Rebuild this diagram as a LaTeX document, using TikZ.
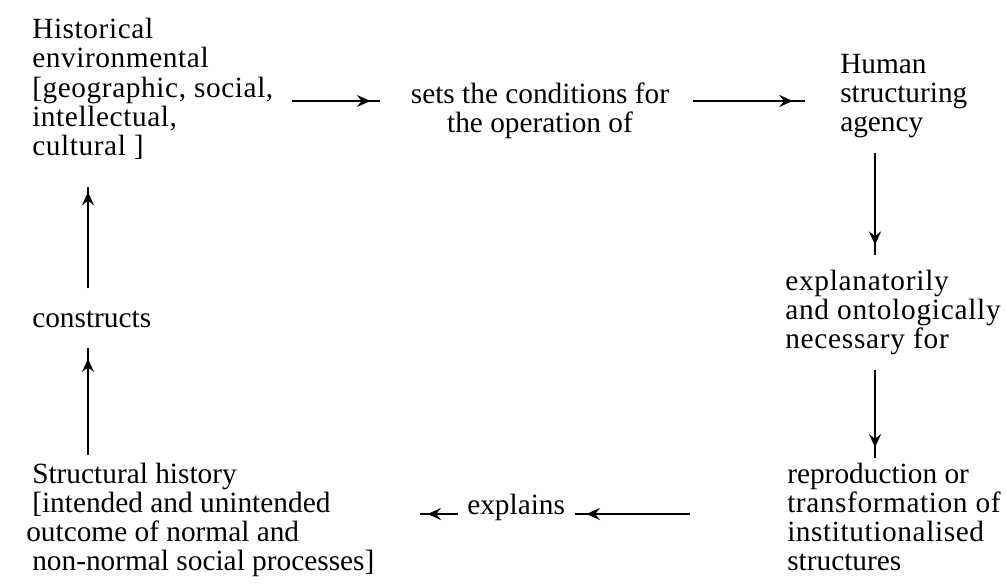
\documentclass[tikz,border=0pt]{standalone}
\usepackage{fontspec}
\setmainfont{Liberation Serif}
\newfontfamily\spc[LetterSpace=2]{Liberation Serif}
\newfontfamily\spcb[LetterSpace=2.5]{Liberation Serif}
\usetikzlibrary{arrows.meta,decorations.markings,calc}
\begin{document}
\begin{tikzpicture}[x=0.75pt,y=-0.75pt,
  txt/.style={inner sep=0pt, align=left, anchor=north west,
    font=\fontsize{22}{21.6}\selectfont, execute at begin node=\strut},
  spaced/.style={font=\spc\fontsize{22}{21.9}\selectfont},
  spacedb/.style={font=\spcb\fontsize{22}{21.6}\selectfont},
  ctr/.style={align=center, anchor=north},
  arr/.style={line width=1.5pt, decoration={markings,
    mark=at position #1 with {\arrow{Stealth[length=10pt,width=9pt,inset=3.5pt]}}},
    postaction={decorate}},
  arr/.default=0.9]
\useasboundingbox (0,0) rectangle (1006,585);
% text blocks
\node[txt, spaced] (hist) at (32,18) {Historical\\environmental\\{[}geographic, social,\\intellectual,\\cultural ]};
\node[txt, ctr] (sets) at (540,83) {sets the conditions for\\the operation of};
\node[txt] (human) at (840,54) {Human\\structuring\\agency};
\node[txt, spacedb] (expl) at (785,270) {explanatorily\\and ontologically\\necessary for};
\node[txt] (repro) at (787,463) {reproduction or\\{\spc transformation of}\\{\spc institutionalised}\\structures};
\node[txt] (expls) at (467,494) {explains};
\node[txt] (struct) at (32,463) {Structural history\\{[}intended and unintended\\\hspace*{-4.5pt}outcome of normal and\\non-normal social processes]};
\node[txt] (cons) at (32,307) {constructs};
% arrow end points
\coordinate (a1s) at (292,101);  \coordinate (a1e) at (380,101);
\coordinate (a2s) at (693,101);  \coordinate (a2e) at (805,101);
\coordinate (a3s) at (875,153);  \coordinate (a3e) at (875,255);
\coordinate (a4s) at (875,370);  \coordinate (a4e) at (875,458);
\coordinate (a5s) at (690,514);  \coordinate (a5e) at (575,514);
\coordinate (a6s) at (458,514);  \coordinate (a6e) at (420,514);
\coordinate (a7s) at (88,455);   \coordinate (a7e) at (88,348);
\coordinate (a8s) at (88,288);   \coordinate (a8e) at (88,187);
\draw[arr=0.89] (a1s) -- (a1e);
\draw[arr=0.89] (a2s) -- (a2e);
\draw[arr=0.9] (a3s) -- (a3e);
\draw[arr=0.88] (a4s) -- (a4e);
\draw[arr=0.9] (a5s) -- (a5e);
\draw[arr=0.8] (a6s) -- (a6e);
\draw[arr=0.9] (a7s) -- (a7e);
\draw[arr=0.95] (a8s) -- (a8e);
\end{tikzpicture}
\end{document}
